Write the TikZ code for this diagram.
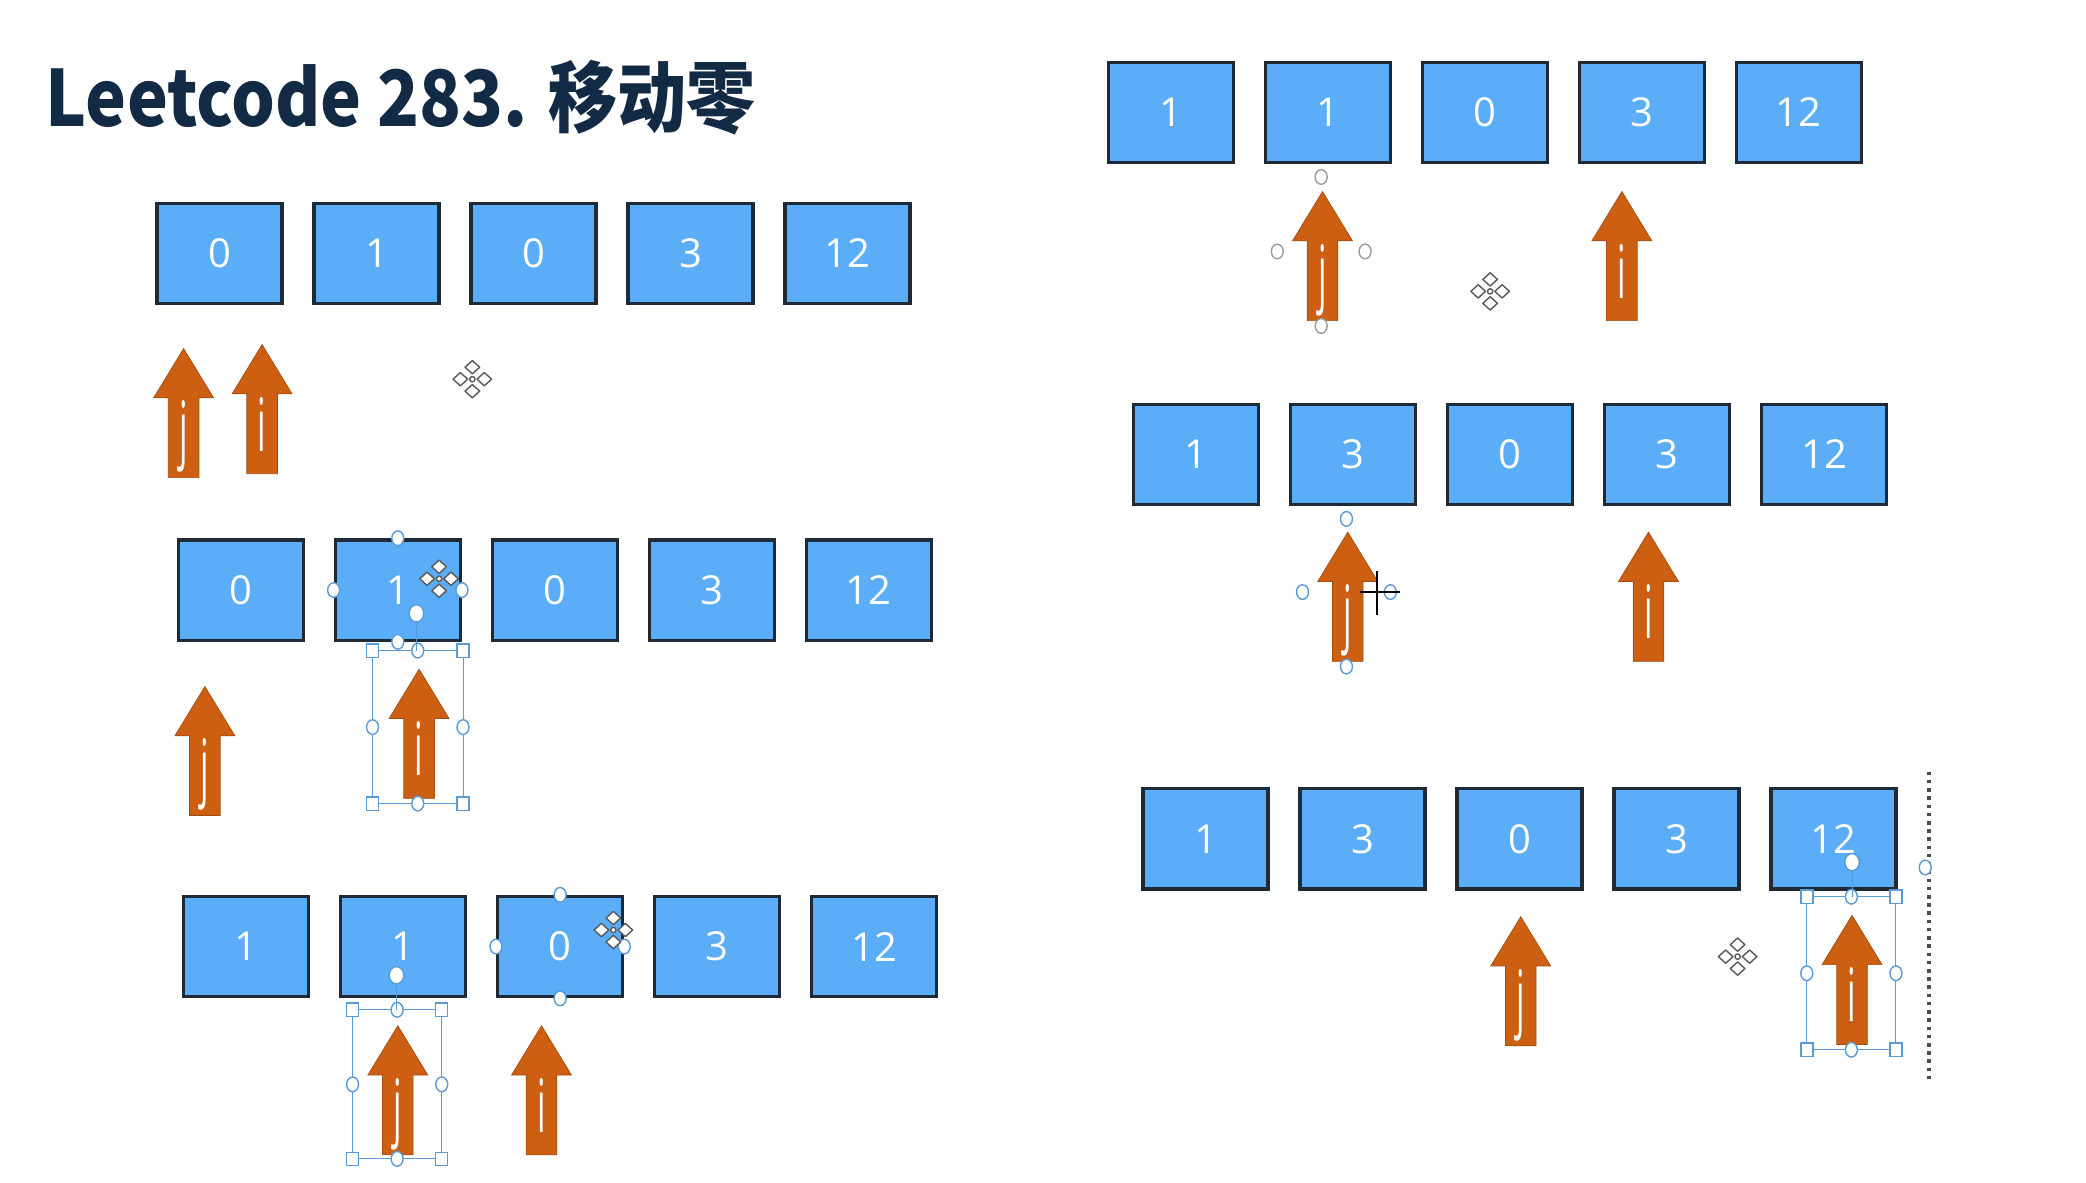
\documentclass[tikz,border=0pt]{standalone}
\usepackage{fontspec}
\setsansfont{Open Sans}
\newfontfamily\titlefont{Noto Sans CJK SC}
\usetikzlibrary{calc}
\definecolor{cellblue}{HTML}{5AADF6}
\definecolor{celledge}{HTML}{1E2A35}
\definecolor{ptrorange}{HTML}{CC5F12}
\definecolor{titlec}{HTML}{132A45}
\definecolor{hdlblue}{HTML}{5B9BD5}
\definecolor{mvgray}{HTML}{5A5A5A}
\tikzset{
  cell/.style={draw=celledge, fill=cellblue, line width=1.4pt, minimum width=1.87cm,
    minimum height=1.5cm, inner sep=0pt, text=white, font=\sffamily\fontsize{17}{17}\selectfont},
  ptr/.style={fill=ptrorange, draw=ptrorange!80!black, line width=0.3pt},
  ptrtext/.style={text=white, font=\sffamily\fontsize{11}{11}\selectfont, inner sep=0pt, anchor=north},
  hdl/.style={draw=hdlblue, fill=white, line width=0.6pt},
  hdlgray/.style={draw=mvgray!60, fill=white, line width=0.6pt},
  frame/.style={draw=hdlblue, line width=0.4pt},
  mv/.style={draw=mvgray, fill=white, line width=0.6pt, line join=round}
}
% pointer arrow: name, x, tip y, letter
\newcommand\pointer[4]{%
  \draw[ptr] ({#2-11.5},{#3+97}) -- ({#2-11.5},{#3+37}) -- ({#2-22.5},{#3+37}) -- (#2,#3)
    -- ({#2+22.5},{#3+37}) -- ({#2+11.5},{#3+37}) -- ({#2+11.5},{#3+97}) -- cycle;
  \node[ptrtext] (#1) at (#2,{#3+39}) {\scalebox{1.3}[2.85]{#4}};
}
% move cursor
\newcommand\moveicon[2]{%
  \foreach \dx/\dy in {-9/0,9/0,0/-9,0/9}
    \draw[mv] ({#1+\dx-5.5},{#2+\dy}) -- ({#1+\dx},{#2+\dy-5}) -- ({#1+\dx+5.5},{#2+\dy}) -- ({#1+\dx},{#2+\dy+5}) -- cycle;
  \draw[mv] (#1,#2) circle[radius=2];
}
% selection frame: x1, y1, x2, y2
\newcommand\selframe[4]{%
  \draw[frame] (#1,#2) rectangle (#3,#4);
  \foreach \hx/\hy in {#1/#2,#3/#2,#1/#4,#3/#4}
    \draw[hdl] ({\hx-4.5},{\hy-5}) rectangle ({\hx+4.5},{\hy+5});
  \pgfmathsetmacro\mx{(#1+#3)/2}
  \pgfmathsetmacro\my{(#2+#4)/2}
  \foreach \hx/\hy in {\mx/#2,\mx/#4,#1/\my,#3/\my}
    \draw[hdl] (\hx,\hy) ellipse[x radius=4.5, y radius=5.5];
}
\begin{document}
\begin{tikzpicture}[x=0.02cm, y=-0.02cm]
  \useasboundingbox[fill=white] (0,0) rectangle (1560,884.7);
  \begin{scope}[scale=0.995]
  \node[anchor=base west, inner sep=0pt, text=titlec,
    font=\titlefont\bfseries\fontsize{33}{33}\selectfont] (title) at (34,95) {\scalebox{0.89}[1]{Leetcode 283. 移动零}};

  %LEFT: rows a, b, c
  \foreach \v [count=\k from 0] in {0,1,0,3,12}
    \node[cell] (a\k) at ({165+118*\k},190.5) {\v};
  \pointer{ja}{138}{262}{j}
  \pointer{ia}{197}{259}{i}
  \moveicon{355}{285}

  \foreach \v [count=\k from 0] in {0,1,0,3,12}
    \node[cell] (b\k) at ({181+118*\k},443.5) {\v};
  \pointer{jb}{154}{516}{j}
  \pointer{ib}{315}{503}{i}
  \foreach \p in {north,south,east,west}
    \draw[hdl] (b1.\p) ellipse[x radius=4.5, y radius=5.5];
  \selframe{280}{489}{348}{604}
  \draw[frame] (313,489) -- (313,461);
  \draw[hdl] (313,461) ellipse[x radius=5.5, y radius=6.5];
  \moveicon{330}{435}

  \foreach \v [count=\k from 0] in {1,1,0,3,12}
    \node[cell] (c\k) at ({185+118*\k},711.5) {\v};
  \pointer{jc}{299}{771}{j}
  \pointer{ic}{407}{771}{i}
  \foreach \p in {north,south,east,west}
    \draw[hdl] (c2.\p) ellipse[x radius=4.5, y radius=5.5];
  \selframe{265}{759}{332}{871}
  \draw[frame] (298,759) -- (298,733);
  \draw[hdl] (298,733) ellipse[x radius=5.5, y radius=6.5];
  \moveicon{461}{699}

  %RIGHT: rows d, e, f
  \foreach \v [count=\k from 0] in {1,1,0,3,12}
    \node[cell] (d\k) at ({880+118*\k},84.5) {\v};
  \pointer{jd}{994}{144}{j}
  \pointer{id}{1219}{144}{i}
  \foreach \hx/\hy in {993/133,960/189,1026/189,993/245}
    \draw[hdlgray] (\hx,\hy) ellipse[x radius=4.5, y radius=5.5];
  \moveicon{1120}{219}

  \foreach \v [count=\k from 0] in {1,3,0,3,12}
    \node[cell] (e\k) at ({899+118*\k},341.5) {\v};
  \pointer{je}{1013}{400}{j}
  \pointer{ie}{1239}{400}{i}
  \foreach \hx/\hy in {1012/390,979/445,1012/501,1045/445}
    \draw[hdl] (\hx,\hy) ellipse[x radius=4.5, y radius=5.5];
  \draw[black, line width=1.2pt] (1035,429) -- (1035,462) (1022,445) -- (1052,445);

  \foreach \v [count=\k from 0] in {1,3,0,3,12}
    \node[cell] (f\k) at ({906+118*\k},630.5) {\v};
  \pointer{jf}{1143}{689}{j}
  \pointer{if}{1392}{688}{i}
  \selframe{1358}{674}{1425}{789}
  \draw[frame] (1392,674) -- (1392,648);
  \draw[hdl, fill=white] (1392,648) ellipse[x radius=5.5, y radius=6.5];
  \moveicon{1306}{719}
  \draw[black!70, line width=1.5pt, dotted] (1450,580) -- (1450,813);
  \draw[hdl] (1447,652) ellipse[x radius=4.5, y radius=5.5];
  \end{scope}
\end{tikzpicture}
\end{document}
